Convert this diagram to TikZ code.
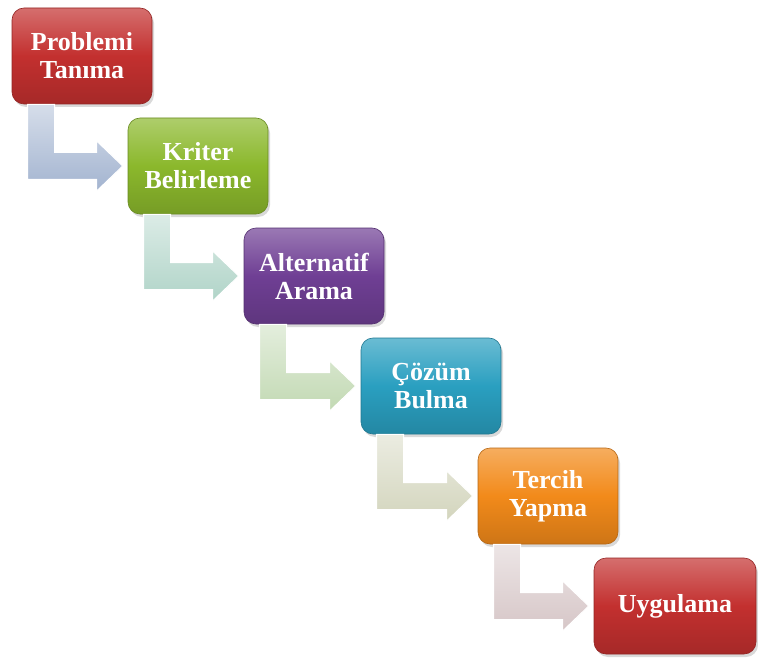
\documentclass[tikz,border=0pt]{standalone}
\usepackage{fontspec}
\setmainfont{Liberation Serif}
\usetikzlibrary{calc,shadows}

\definecolor{boxred}{HTML}{C3302F}
\definecolor{boxgreen}{HTML}{8BB82C}
\definecolor{boxpurple}{HTML}{6F3F94}
\definecolor{boxteal}{HTML}{2A9FC0}
\definecolor{boxorange}{HTML}{F28A1A}
\definecolor{arrblue}{HTML}{A3B4D0}
\definecolor{arrteal}{HTML}{B0D4C8}
\definecolor{arrgreen}{HTML}{C2D9B3}
\definecolor{arrbeige}{HTML}{D3D5BD}
\definecolor{arrpink}{HTML}{D6C6C7}

\tikzset{
  stepbox/.style={rounded corners=12pt, minimum width=140pt, minimum height=96pt,
    align=center, text=white, font=\fontsize{26}{28}\selectfont\bfseries,
    drop shadow={shadow xshift=2pt, shadow yshift=-3pt, opacity=0.3},
    top color=#1!70!white, bottom color=#1!85!black, middle color=#1,
    draw=#1!75!black, line width=0.6pt},
  arrowfill/.style={top color=#1!45!white, bottom color=#1, draw=white, line width=1pt},
}

\newcommand{\stepconnect}[3]{%
  \path[arrowfill=#3] let \p1=(#1.south west), \p2=(#2.west) in
    (\x1+16pt,\y1) -- (\x1+43pt,\y1) -- (\x1+43pt,\y2+13.5pt)
    -- (\x2-31pt,\y2+13.5pt) -- (\x2-31pt,\y2+25pt) -- (\x2-5pt,\y2)
    -- (\x2-31pt,\y2-25pt) -- (\x2-31pt,\y2-13.5pt)
    -- (\x1+16pt,\y2-13.5pt) -- cycle;}

\begin{document}
\begin{tikzpicture}[x=1pt, y=-1pt]
  \useasboundingbox (0,0) rectangle (758,658);
  % the six steps
  \node[stepbox=boxred] (tanima) at (82,56) {Problemi\\Tanıma};
  \node[stepbox=boxgreen] (kriter) at (198,166) {Kriter\\Belirleme};
  \node[stepbox=boxpurple] (arama) at (314,276) {Alternatif\\Arama};
  \node[stepbox=boxteal] (cozum) at (431,386) {Çözüm\\Bulma};
  \node[stepbox=boxorange] (tercih) at (548,496) {Tercih\\Yapma};
  \node[stepbox=boxred, minimum width=162pt] (uygulama) at (675,606) {Uygulama};
  % bent arrows between the steps
  \stepconnect{tanima}{kriter}{arrblue}
  \stepconnect{kriter}{arama}{arrteal}
  \stepconnect{arama}{cozum}{arrgreen}
  \stepconnect{cozum}{tercih}{arrbeige}
  \stepconnect{tercih}{uygulama}{arrpink}
\end{tikzpicture}
\end{document}
